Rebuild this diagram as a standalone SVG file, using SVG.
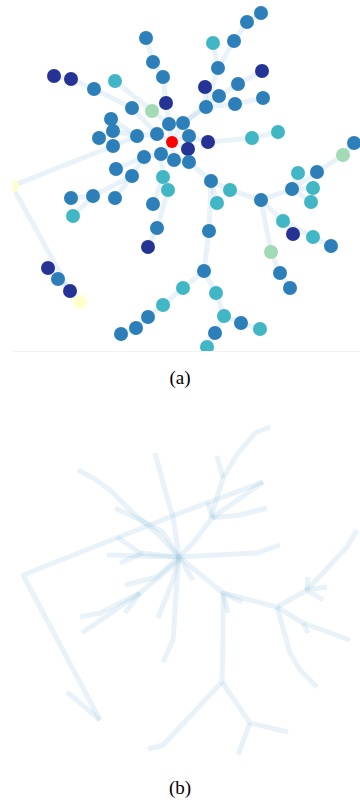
<svg xmlns="http://www.w3.org/2000/svg" width="360" height="802" viewBox="0 0 360 802">
  <style>
    .e { fill: none; stroke: #9ecae1; stroke-opacity: 0.24; stroke-width: 5; stroke-linejoin: round; stroke-linecap: butt; }
    .n circle { stroke: none; }
    .b { fill: #2c7fb8; }
    .d { fill: #253494; }
    .t { fill: #41b6c4; }
    .g { fill: #a1dab4; }
    .y { fill: #ffffcc; }
    .r { fill: #ff0000; }
    .cap { font-family: "Liberation Serif", "Times New Roman", serif; font-size: 19px; fill: #000; text-anchor: middle; }
  </style>
  <defs>
    <clipPath id="panelA"><rect x="13" y="0" width="347" height="351"/></clipPath>
  </defs>
  <rect width="360" height="802" fill="#fff"/>

  <!-- panel (a): tree layout -->
  <g clip-path="url(#panelA)">
    <g id="edges-a">
      <polyline class="e" points="146,38 153,62 163,77 166,103 169,124 172,142"/>
      <polyline class="e" points="54,76 71,79 94,89 132,108 157,134 172,142"/>
      <polyline class="e" points="115,81 152,111 169,124"/>
      <polyline class="e" points="111,119 137,136"/>
      <polyline class="e" points="99,138 113,131 137,136"/>
      <polyline class="e" points="113,146 137,136 157,134"/>
      <polyline class="e" points="12,186 113,146"/>
      <polyline class="e" points="12,186 70,291 80,302"/>
      <polyline class="e" points="48,268 58,279 70,291"/>
      <polyline class="e" points="261,13 247,22 234,41 218,68 206,107 183,123 172,142"/>
      <polyline class="e" points="213,43 218,68"/>
      <polyline class="e" points="262,71 238,84 219,96 183,123"/>
      <polyline class="e" points="205,87 206,107"/>
      <polyline class="e" points="206,107 235,104 263,98"/>
      <polyline class="e" points="172,142 189,136 208,142 252,138 278,132"/>
      <polyline class="e" points="172,142 188,149"/>
      <polyline class="e" points="354,143 343,155 317,172 292,189 261,200"/>
      <polyline class="e" points="298,173 292,189 313,188"/>
      <polyline class="e" points="311,202 292,189"/>
      <polyline class="e" points="261,200 230,190 211,181 189,162 174,160 172,142"/>
      <polyline class="e" points="217,203 211,181"/>
      <polyline class="e" points="261,200 283,221 313,237 331,246"/>
      <polyline class="e" points="293,234 283,221"/>
      <polyline class="e" points="261,200 271,252 280,273 290,288"/>
      <polyline class="e" points="211,181 209,231 204,271"/>
      <polyline class="e" points="204,271 183,288 163,305 148,317 136,328 121,334"/>
      <polyline class="e" points="204,271 216,293 224,316 241,323 260,329"/>
      <polyline class="e" points="224,316 215,333 207,347"/>
      <polyline class="e" points="172,142 161,154 144,157 132,176 93,196 71,198"/>
      <polyline class="e" points="116,169 144,157"/>
      <polyline class="e" points="73,216 93,196"/>
      <polyline class="e" points="115,198 132,176"/>
      <polyline class="e" points="161,154 163,177 168,190 157,228 148,247"/>
      <polyline class="e" points="153,204 163,177"/>
    </g>

    <g id="nodes-a" class="n">
      <circle class="b" cx="146" cy="38" r="7"/>
      <circle class="b" cx="153" cy="62" r="7"/>
      <circle class="b" cx="163" cy="77" r="7"/>
      <circle class="d" cx="166" cy="103" r="7"/>
      <circle class="g" cx="152" cy="111" r="7"/>
      <circle class="d" cx="54" cy="76" r="7"/>
      <circle class="d" cx="71" cy="79" r="7"/>
      <circle class="b" cx="94" cy="89" r="7"/>
      <circle class="t" cx="115" cy="81" r="7"/>
      <circle class="b" cx="132" cy="108" r="7"/>
      <circle class="b" cx="111" cy="119" r="7"/>
      <circle class="b" cx="113" cy="131" r="7"/>
      <circle class="b" cx="99" cy="138" r="7"/>
      <circle class="b" cx="113" cy="146" r="7"/>
      <circle class="b" cx="137" cy="136" r="7"/>
      <circle class="b" cx="157" cy="134" r="7"/>
      <circle class="b" cx="169" cy="124" r="7"/>
      <circle class="b" cx="183" cy="123" r="7"/>
      <circle class="b" cx="189" cy="136" r="7"/>
      <circle class="d" cx="188" cy="149" r="7"/>
      <circle class="b" cx="174" cy="160" r="7"/>
      <circle class="b" cx="161" cy="154" r="7"/>
      <circle class="b" cx="144" cy="157" r="7"/>
      <circle class="b" cx="189" cy="162" r="7"/>
      <circle class="d" cx="208" cy="142" r="7"/>
      <circle class="b" cx="116" cy="169" r="7"/>
      <circle class="b" cx="132" cy="176" r="7"/>
      <circle class="t" cx="163" cy="177" r="7"/>
      <circle class="t" cx="168" cy="190" r="7"/>
      <circle class="b" cx="153" cy="204" r="7"/>
      <circle class="b" cx="157" cy="228" r="7"/>
      <circle class="d" cx="148" cy="247" r="7"/>
      <circle class="b" cx="261" cy="13" r="7"/>
      <circle class="b" cx="247" cy="22" r="7"/>
      <circle class="b" cx="234" cy="41" r="7"/>
      <circle class="t" cx="213" cy="43" r="7"/>
      <circle class="b" cx="218" cy="68" r="7"/>
      <circle class="d" cx="262" cy="71" r="7"/>
      <circle class="b" cx="238" cy="84" r="7"/>
      <circle class="d" cx="205" cy="87" r="7"/>
      <circle class="b" cx="219" cy="96" r="7"/>
      <circle class="b" cx="206" cy="107" r="7"/>
      <circle class="b" cx="235" cy="104" r="7"/>
      <circle class="b" cx="263" cy="98" r="7"/>
      <circle class="t" cx="252" cy="138" r="7"/>
      <circle class="t" cx="278" cy="132" r="7"/>
      <circle class="b" cx="354" cy="143" r="7"/>
      <circle class="g" cx="343" cy="155" r="7"/>
      <circle class="t" cx="298" cy="173" r="7"/>
      <circle class="b" cx="317" cy="172" r="7"/>
      <circle class="b" cx="292" cy="189" r="7"/>
      <circle class="t" cx="313" cy="188" r="7"/>
      <circle class="t" cx="311" cy="202" r="7"/>
      <circle class="b" cx="211" cy="181" r="7"/>
      <circle class="t" cx="230" cy="190" r="7"/>
      <circle class="t" cx="217" cy="203" r="7"/>
      <circle class="b" cx="261" cy="200" r="7"/>
      <circle class="t" cx="283" cy="221" r="7"/>
      <circle class="d" cx="293" cy="234" r="7"/>
      <circle class="t" cx="313" cy="237" r="7"/>
      <circle class="b" cx="331" cy="246" r="7"/>
      <circle class="g" cx="271" cy="252" r="7"/>
      <circle class="b" cx="280" cy="273" r="7"/>
      <circle class="b" cx="290" cy="288" r="7"/>
      <circle class="b" cx="209" cy="231" r="7"/>
      <circle class="b" cx="204" cy="271" r="7"/>
      <circle class="t" cx="183" cy="288" r="7"/>
      <circle class="t" cx="163" cy="305" r="7"/>
      <circle class="b" cx="148" cy="317" r="7"/>
      <circle class="b" cx="136" cy="328" r="7"/>
      <circle class="b" cx="121" cy="334" r="7"/>
      <circle class="t" cx="216" cy="293" r="7"/>
      <circle class="t" cx="224" cy="316" r="7"/>
      <circle class="b" cx="241" cy="323" r="7"/>
      <circle class="t" cx="260" cy="329" r="7"/>
      <circle class="b" cx="215" cy="333" r="7"/>
      <circle class="t" cx="207" cy="347" r="7"/>
      <circle class="b" cx="71" cy="198" r="7"/>
      <circle class="b" cx="93" cy="196" r="7"/>
      <circle class="b" cx="115" cy="198" r="7"/>
      <circle class="t" cx="73" cy="216" r="7"/>
      <circle class="y" cx="12" cy="186" r="7"/>
      <circle class="d" cx="48" cy="268" r="7"/>
      <circle class="b" cx="58" cy="279" r="7"/>
      <circle class="d" cx="70" cy="291" r="7"/>
      <circle class="y" cx="80" cy="302" r="7"/>
      <circle class="r" cx="172" cy="142" r="6"/>
    </g>
  </g>
  <line x1="13" y1="351.5" x2="360" y2="351.5" stroke="#f3f3f3" stroke-width="1"/>
  <text class="cap" x="180" y="384">(a)</text>

  <!-- panel (b): bundled edges -->
  <g id="edges-b">
    <polyline class="e" points="78,470 93,478 110,490 133,513 157,533 179,557"/>
    <polyline class="e" points="155,453 167,497 173,517 179,557"/>
    <polyline class="e" points="115,508 140,520 163,532 179,557"/>
    <polyline class="e" points="263,482 180,513 23,575 100,720"/>
    <polyline class="e" points="67,692 100,720"/>
    <polyline class="e" points="117,537 140,553 179,557"/>
    <polyline class="e" points="107,555 179,557"/>
    <polyline class="e" points="120,563 143,553"/>
    <polyline class="e" points="125,585 157,577 179,557"/>
    <polyline class="e" points="80,617 100,613 140,593 179,560"/>
    <polyline class="e" points="82,633 140,593"/>
    <polyline class="e" points="125,613 140,593"/>
    <polyline class="e" points="158,618 173,580 179,557"/>
    <polyline class="e" points="163,662 173,640 177,580 179,557"/>
    <polyline class="e" points="270,427 255,433 238,453 223,478 213,510 212,518"/>
    <polyline class="e" points="217,456 223,478"/>
    <polyline class="e" points="208,502 212,518"/>
    <polyline class="e" points="212,518 240,515 267,508"/>
    <polyline class="e" points="212,518 263,482"/>
    <polyline class="e" points="212,518 193,543 179,557"/>
    <polyline class="e" points="179,557 257,553 280,545"/>
    <polyline class="e" points="179,557 193,580"/>
    <polyline class="e" points="179,557 223,593 277,607 307,590 347,547 357,530"/>
    <polyline class="e" points="327,587 307,590 323,600"/>
    <polyline class="e" points="308,577 307,590"/>
    <polyline class="e" points="242,602 223,593 228,613"/>
    <polyline class="e" points="277,607 303,623 350,640"/>
    <polyline class="e" points="308,633 303,623"/>
    <polyline class="e" points="277,607 290,653 300,670 317,687"/>
    <polyline class="e" points="223,593 223,640 222,682 180,727 163,745 148,749"/>
    <polyline class="e" points="222,682 250,723 288,732"/>
    <polyline class="e" points="250,723 238,755"/>
  </g>
  <text class="cap" x="180" y="794">(b)</text>
</svg>
